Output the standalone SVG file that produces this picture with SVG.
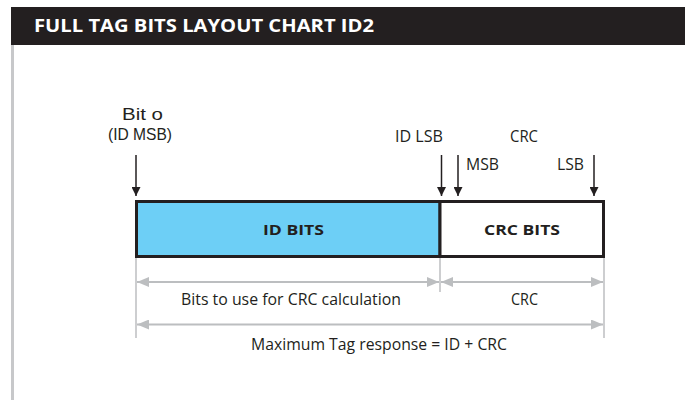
<svg xmlns="http://www.w3.org/2000/svg" width="685" height="402" viewBox="0 0 685 402">
  <style>
    .lbl { font-family: "Open Sans", "Liberation Sans", sans-serif; font-size: 17px; fill: #231f20; }
    .tight { font-family: "Liberation Sans", Arial, sans-serif; font-size: 17px; fill: #231f20; }
    .bold { font-family: "Open Sans", "Liberation Sans", sans-serif; font-weight: bold; font-size: 15px; fill: #231f20; }
    .title { font-family: "Open Sans", "Liberation Sans", sans-serif; font-weight: bold; font-size: 18.5px; fill: #ffffff; }
    .dim { stroke: #bcbec0; stroke-width: 2; fill: none; }
    .ext { stroke: #bcbec0; stroke-width: 1.5; fill: none; }
    .ptr { stroke: #231f20; stroke-width: 1.5; fill: none; }
  </style>
  <defs>
    <marker id="ptrHead" viewBox="0 0 10 10" refX="10" refY="5" markerWidth="9" markerHeight="9" markerUnits="userSpaceOnUse" orient="auto">
      <path d="M0,0 L10,5 L0,10 Z" fill="#231f20"/>
    </marker>
    <marker id="dimEnd" viewBox="0 0 12 10" refX="12" refY="5" markerWidth="12" markerHeight="10" markerUnits="userSpaceOnUse" orient="auto">
      <path d="M0,0 L12,5 L0,10 Z" fill="#bcbec0"/>
    </marker>
    <marker id="dimStart" viewBox="0 0 12 10" refX="0" refY="5" markerWidth="12" markerHeight="10" markerUnits="userSpaceOnUse" orient="auto">
      <path d="M12,0 L0,5 L12,10 Z" fill="#bcbec0"/>
    </marker>
  </defs>

  <rect width="685" height="402" fill="#ffffff"/>

  <!-- header bar and side rule -->
  <g id="header">
    <rect x="11" y="7" width="674" height="38" fill="#231f20"/>
    <text class="title" x="34" y="32" textLength="340" lengthAdjust="spacingAndGlyphs">FULL TAG BITS LAYOUT CHART ID2</text>
    <rect x="11" y="45" width="3" height="355" fill="#c7c8ca"/>
  </g>

  <!-- bit fields -->
  <g id="id-bits">
    <rect x="136.5" y="201.5" width="303.5" height="55" fill="#6dcff6" stroke="#231f20" stroke-width="3"/>
    <text class="bold" x="263" y="235" textLength="61" lengthAdjust="spacingAndGlyphs">ID BITS</text>
  </g>
  <g id="crc-bits">
    <rect x="440" y="201.5" width="163.5" height="55" fill="#ffffff" stroke="#231f20" stroke-width="3"/>
    <text class="bold" x="484" y="235" textLength="76" lengthAdjust="spacingAndGlyphs">CRC BITS</text>
  </g>

  <!-- pointer labels -->
  <g id="bit0-label">
    <text class="tight" x="122" y="120" textLength="41" lengthAdjust="spacingAndGlyphs">Bit o</text>
    <text class="tight" x="108" y="139.5" textLength="64" lengthAdjust="spacingAndGlyphs">(ID MSB)</text>
  </g>
  <g id="idlsb-label">
    <text class="lbl" x="395" y="141.5" textLength="48" lengthAdjust="spacingAndGlyphs">ID LSB</text>
  </g>
  <g id="crc-label">
    <text class="lbl" x="510" y="141.5" textLength="28" lengthAdjust="spacingAndGlyphs">CRC</text>
    <text class="lbl" x="466" y="170" textLength="33" lengthAdjust="spacingAndGlyphs">MSB</text>
    <text class="lbl" x="557" y="170" textLength="27" lengthAdjust="spacingAndGlyphs">LSB</text>
  </g>

  <!-- connectors -->
  <g id="connectors">
    <line class="ptr" x1="136" y1="155" x2="136" y2="196" marker-end="url(#ptrHead)"/>
    <line class="ptr" x1="441.5" y1="155" x2="441.5" y2="196" marker-end="url(#ptrHead)"/>
    <line class="ptr" x1="458" y1="155" x2="458" y2="196" marker-end="url(#ptrHead)"/>
    <line class="ptr" x1="594" y1="155" x2="594" y2="196" marker-end="url(#ptrHead)"/>

    <line class="ext" x1="136" y1="258" x2="136" y2="338"/>
    <line class="ext" x1="440" y1="258" x2="440" y2="292"/>
    <line class="ext" x1="604" y1="258" x2="604" y2="338"/>

    <line class="dim" x1="137" y1="282" x2="439" y2="282" marker-start="url(#dimStart)" marker-end="url(#dimEnd)"/>
    <line class="dim" x1="441" y1="282" x2="603" y2="282" marker-start="url(#dimStart)" marker-end="url(#dimEnd)"/>
    <line class="dim" x1="137" y1="324.5" x2="603" y2="324.5" marker-start="url(#dimStart)" marker-end="url(#dimEnd)"/>
  </g>

  <!-- dimension labels -->
  <g id="dim-labels">
    <text class="lbl" x="181" y="305" textLength="220" lengthAdjust="spacingAndGlyphs">Bits to use for CRC calculation</text>
    <text class="lbl" x="511" y="305" textLength="27" lengthAdjust="spacingAndGlyphs">CRC</text>
    <text class="lbl" x="251" y="350" textLength="256" lengthAdjust="spacingAndGlyphs">Maximum Tag response = ID + CRC</text>
  </g>
</svg>
